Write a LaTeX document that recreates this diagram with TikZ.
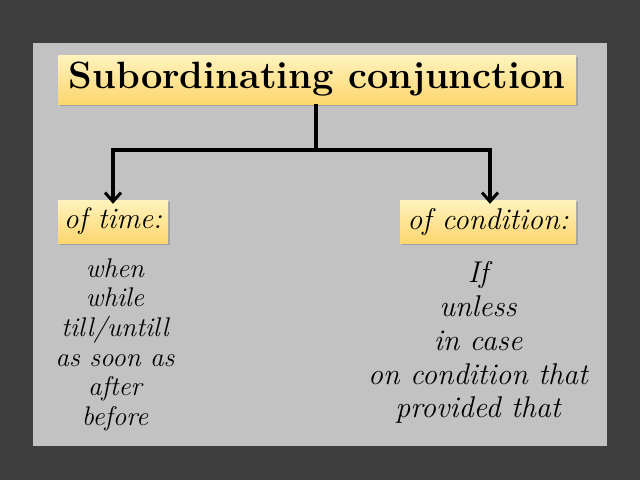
\documentclass[tikz,border=0pt]{standalone}
\usetikzlibrary{arrows.meta,shadows}
\begin{document}
\begin{tikzpicture}[x=1pt,y=-1pt,
  ybox/.style={draw=none,top color={rgb,255:red,255;green,243;blue,190},bottom color={rgb,255:red,253;green,214;blue,110},
    drop shadow={shadow xshift=2pt,shadow yshift=-2pt,fill=black!45,opacity=0.6},inner sep=0pt},
  conn/.style={line width=3.5pt,line join=miter},
  arr/.style={conn,-{Straight Barb[length=9pt,width=16pt,line width=3pt]}},
  lst/.style={align=center,font=\itshape}]
\useasboundingbox (0,0) rectangle (640,480);
\fill[black!76] (0,0) rectangle (640,480);
\fill[black!24] (33,43) rectangle (607,446);
\node[ybox,minimum width=518pt,minimum height=49pt] (t) at (317,79.5) {\fontsize{38}{40}\selectfont\bfseries Subordinating conjunction};
\node[ybox,minimum width=110pt,minimum height=43pt] (a) at (113,221.5) {\fontsize{29.5}{32}\selectfont\itshape of time:};
\node[ybox,minimum width=176pt,minimum height=43pt] (b) at (488,221.5) {\fontsize{30}{32}\selectfont\itshape of condition:};
\coordinate (j) at (316,150);
\draw[conn] (t.south -| j) -- (j);
\draw[arr] (j) -| ([yshift=-4pt]a.north);
\draw[arr] (j) -| ([yshift=-4pt]b.north -| 490,0);
\node[lst,font=\itshape\fontsize{27}{29.6}\selectfont,anchor=north] (l) at (115,255) {when\\while\\till/untill\\as soon as\\after\\before};
\node[lst,font=\itshape\fontsize{30}{33.8}\selectfont,anchor=north] (r) at (478,258) {If\\unless\\in case\\on condition that\\provided that};
\end{tikzpicture}
\end{document}
